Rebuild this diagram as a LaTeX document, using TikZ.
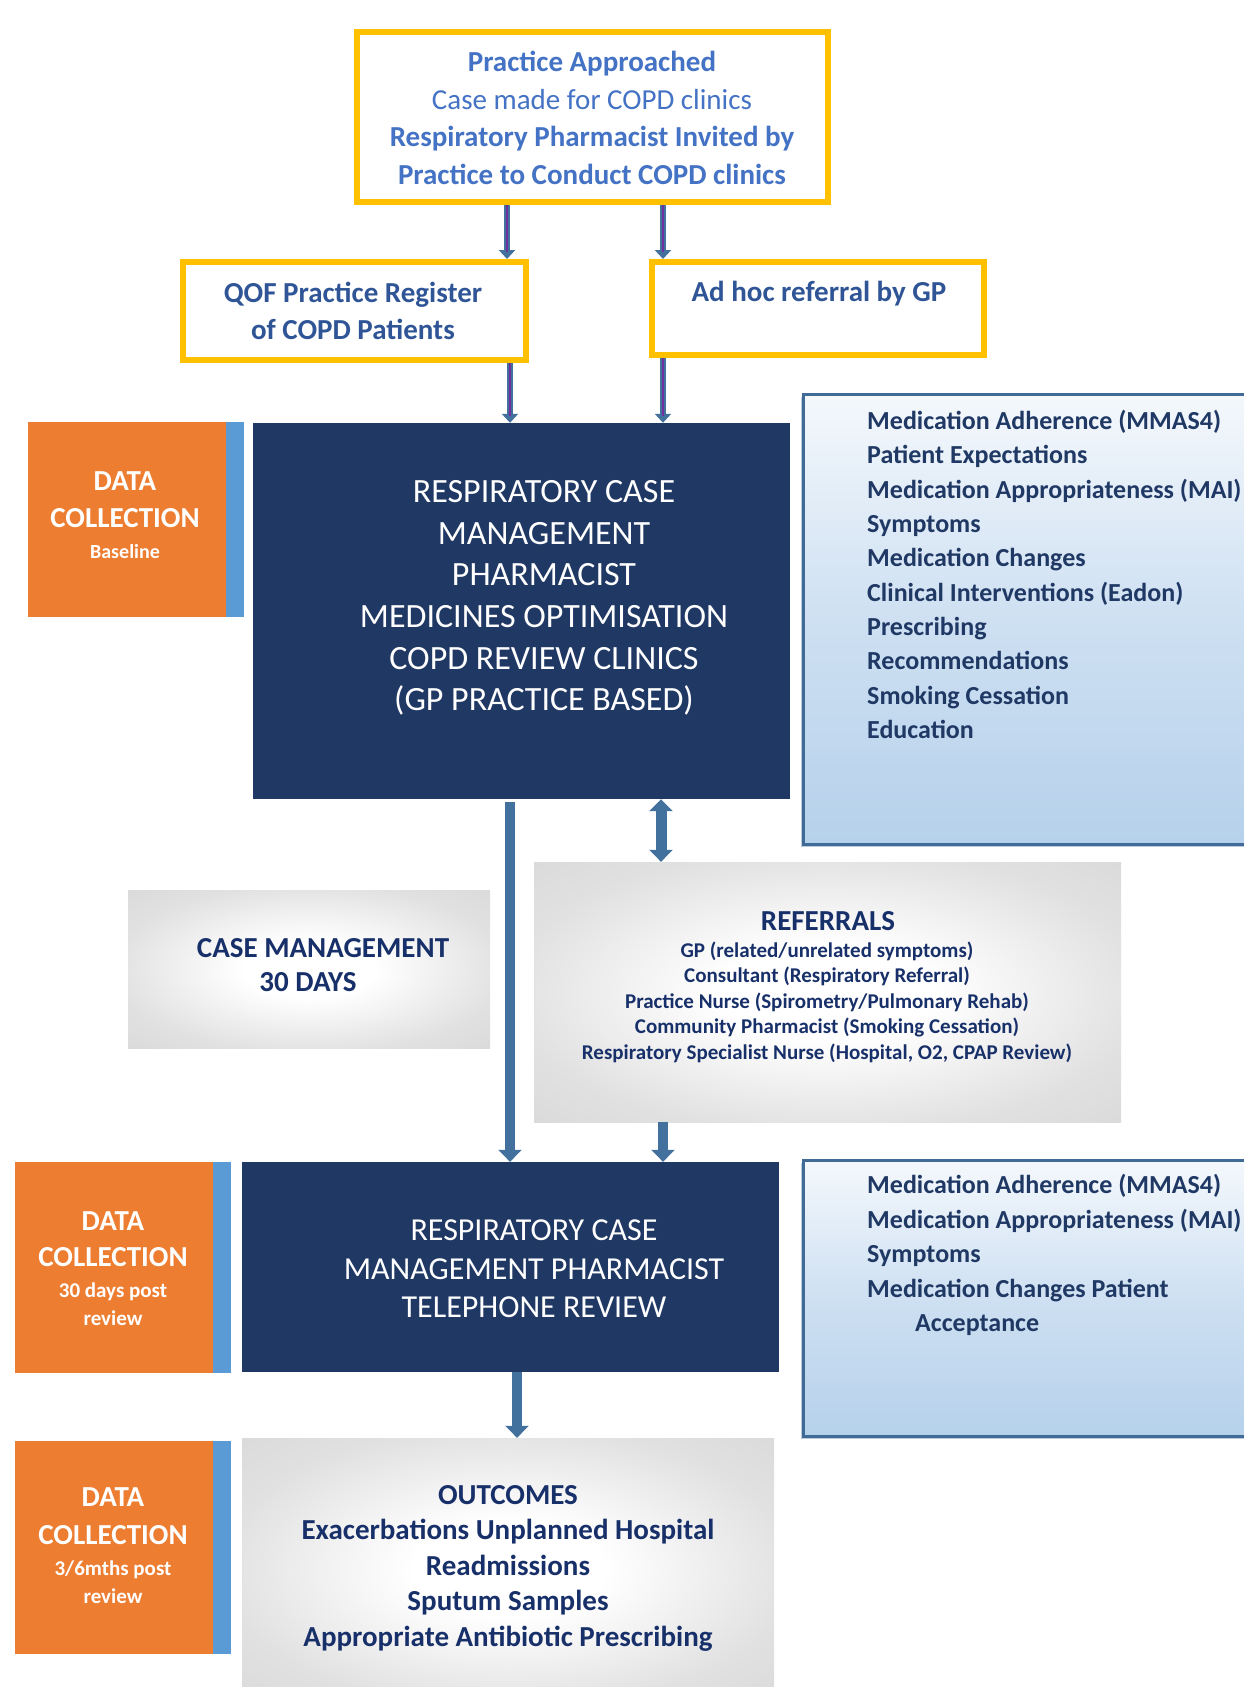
\documentclass[tikz,border=0pt]{standalone}
\usepackage{fontspec}
\setmainfont{Carlito}
\usetikzlibrary{arrows.meta,shadows,calc}
\definecolor{yellowC}{HTML}{FFC000}
\definecolor{navyC}{HTML}{203864}
\definecolor{orangeC}{HTML}{ED7D31}
\definecolor{stripC}{HTML}{5B9BD5}
\definecolor{steelC}{HTML}{41719C}
\definecolor{purpleC}{HTML}{7030A0}
\definecolor{topTxt}{HTML}{4472C4}
\definecolor{qofTxt}{HTML}{2F5597}
\definecolor{darkTxt}{HTML}{1F3864}
\definecolor{navyTxt}{HTML}{18306A}
\definecolor{rborder}{HTML}{3F6B96}
\definecolor{rtop}{HTML}{F4F8FC}
\definecolor{rmid}{HTML}{CEE0F2}
\definecolor{rbot}{HTML}{B6D1EB}
\definecolor{grayedge}{HTML}{E2E1E1}
\definecolor{grayedgeB}{HTML}{DBDADA}
\pgfdeclareradialshading{grayrad}{\pgfpoint{0bp}{0bp}}{color(0bp)=(white); color(9bp)=(white); color(27bp)=(grayedge); color(36bp)=(grayedgeB); color(50bp)=(grayedgeB)}
\tikzset{
  ybox/.style={draw=yellowC, line width=6pt, fill=white, inner sep=0pt},
  navybox/.style={fill=navyC, inner sep=0pt},
  orangebox/.style={fill=orangeC, inner sep=0pt},
  stripbox/.style={fill=stripC, inner sep=0pt},
  rbox/.style={draw=rborder, line width=3pt, top color=rtop, bottom color=rbot, middle color=rmid, inner sep=0pt,
    drop shadow={shadow xshift=-2.5pt, shadow yshift=-3pt, opacity=0.35, fill=rborder}},
  gbox/.style={shading=grayrad, inner sep=0pt},
  txt/.style={inner sep=0pt, align=center},
  parrow/.style={draw=steelC, line width=6.5pt, -{Triangle[length=9pt,width=16pt]},
    postaction={draw=purpleC, line width=2.6pt, -, shorten >=7pt, shorten <=0pt}},
  sarrow/.style={draw=steelC, line width=10pt, -{Triangle[length=12pt,width=23pt]}},
  darrow/.style={draw=steelC, line width=11pt, {Triangle[length=12pt,width=23pt]}-{Triangle[length=12pt,width=23pt]}},
}
\begin{document}
\begin{tikzpicture}[x=1pt,y=-1pt]
\useasboundingbox (0,0) rectangle (1244,1687);
\fill[white] (0,0) rectangle (1244,1687);

% boxes
\node[ybox, minimum width=471pt, minimum height=170pt] (top) at (592.5,117) {};
\node[ybox, minimum width=343pt, minimum height=98pt] (qof) at (354.5,311) {};
\node[ybox, minimum width=332pt, minimum height=93pt] (adhoc) at (818,308.5) {};
\node[navybox, minimum width=537pt, minimum height=376pt] (main) at (521.5,611) {};
\node[orangebox, minimum width=198pt, minimum height=195pt] (or1) at (127,519.5) {};
\node[stripbox, minimum width=18pt, minimum height=195pt] (st1) at (235,519.5) {};
\node[rbox, minimum width=467pt, minimum height=450pt] (rb1) at (1036.5,619) {};
\node[gbox, minimum width=362pt, minimum height=158pt] (cm) at (309,969) {};
\node[gbox, minimum width=587pt, minimum height=260pt] (ref) at (827.5,992) {};
\node[navybox, minimum width=537pt, minimum height=210pt] (tel) at (510.5,1267) {};
\node[orangebox, minimum width=198pt, minimum height=211pt] (or2) at (114,1267.5) {};
\node[stripbox, minimum width=18pt, minimum height=211pt] (st2) at (222,1267.5) {};
\node[rbox, minimum width=467pt, minimum height=276pt] (rb2) at (1036.5,1298) {};
\node[orangebox, minimum width=198pt, minimum height=213pt] (or3) at (114,1547.5) {};
\node[stripbox, minimum width=18pt, minimum height=213pt] (st3) at (222,1547.5) {};
\node[gbox, minimum width=532pt, minimum height=262pt] (out) at (508,1569) {};

% connector columns
\coordinate (xa) at (507,0);
\coordinate (xb) at (663,0);
\coordinate (xc) at (510,0);
\coordinate (xd) at (661,0);
\coordinate (xe) at (517,0);

\draw[parrow] (top.south -| xa) -- (qof.north -| xa);
\draw[parrow] (top.south -| xb) -- (adhoc.north -| xb);
\draw[parrow] (qof.south -| xc) -- (main.north -| xc);
\draw[parrow] (adhoc.south -| xb) -- (main.north -| xb);
\draw[sarrow] ([yshift=-3pt]main.south -| xc) -- (tel.north -| xc);
\draw[darrow] (main.south -| xd) -- (ref.north -| xd);
\draw[sarrow] (ref.south -| xb) -- (tel.north -| xb);
\draw[sarrow] (tel.south -| xe) -- (out.north -| xe);

% texts
\node[txt, text=topTxt, font=\fontsize{29}{37.4}\selectfont] (ttop) at (592,118)
  {\textbf{Practice Approached}\\Case made for COPD clinics\\\textbf{Respiratory Pharmacist Invited by}\\\textbf{Practice to Conduct COPD clinics}};
\node[txt, text=qofTxt, font=\bfseries\fontsize{29}{37}\selectfont] (tqof) at (353,310.5)
  {QOF Practice Register\\of COPD Patients};
\node[txt, text=qofTxt, font=\bfseries\fontsize{29}{37}\selectfont] (tadhoc) at (819,293.5)
  {Ad hoc referral by GP};
\node[txt, text=white, font=\fontsize{34}{41.6}\selectfont] (tmain) at (544,598)
  {RESPIRATORY CASE\\MANAGEMENT\\PHARMACIST\\MEDICINES OPTIMISATION\\COPD REVIEW CLINICS\\(GP PRACTICE BASED)};
\node[txt, text=white, font=\bfseries\fontsize{29}{37}\selectfont] (tor1) at (125,499.5) {DATA\\COLLECTION};
\node[txt, text=white, font=\bfseries\fontsize{20}{28}\selectfont] (sor1) at (125,552) {Baseline};
\node[txt, align=left, anchor=west, text=darkTxt, font=\bfseries\fontsize{26}{34.3}\selectfont] (trb1) at (867,574.4)
  {Medication Adherence (MMAS4)\\Patient Expectations\\Medication Appropriateness (MAI)\\Symptoms\\Medication Changes\\Clinical Interventions (Eadon)\\Prescribing\\Recommendations\\Smoking Cessation\\Education};
\node[txt, text=navyTxt, font=\bfseries\fontsize{29}{34}\selectfont] (tcm) at (323,965)
  {CASE MANAGEMENT\\30 DAYS\rule{30pt}{0pt}};
\node[txt, text=navyTxt, font=\bfseries\fontsize{29}{34}\selectfont] (tref) at (828,921) {REFERRALS};
\node[txt, text=navyTxt, font=\bfseries\fontsize{21}{25.5}\selectfont] (lref) at (827,1002)
  {GP (related/unrelated symptoms)\\Consultant (Respiratory Referral)\\Practice Nurse (Spirometry/Pulmonary Rehab)\\Community Pharmacist (Smoking Cessation)\\Respiratory Specialist Nurse (Hospital, O2, CPAP Review)};
\node[txt, text=white, font=\fontsize{32}{38.5}\selectfont] (ttel) at (534,1269)
  {RESPIRATORY CASE\\MANAGEMENT PHARMACIST\\TELEPHONE REVIEW};
\node[txt, text=white, font=\bfseries\fontsize{29}{36}\selectfont] (tor2) at (113,1239) {DATA\\COLLECTION};
\node[txt, text=white, font=\bfseries\fontsize{21}{28}\selectfont] (sor2) at (113,1304) {30 days post\\review};
\node[txt, align=left, anchor=west, text=darkTxt, font=\bfseries\fontsize{26}{34.5}\selectfont] (trb2) at (867,1255)
  {Medication Adherence (MMAS4)\\Medication Appropriateness (MAI)\\Symptoms\\Medication Changes Patient\\\hspace*{48pt}Acceptance};
\node[txt, text=white, font=\bfseries\fontsize{29}{38}\selectfont] (tor3) at (113,1516) {DATA\\COLLECTION};
\node[txt, text=white, font=\bfseries\fontsize{21}{28}\selectfont] (sor3) at (113,1582) {3/6mths post\\review};
\node[txt, text=navyTxt, font=\bfseries\fontsize{29}{35.5}\selectfont] (tout) at (508,1568)
  {OUTCOMES\\Exacerbations Unplanned Hospital\\Readmissions\\Sputum Samples\\Appropriate Antibiotic Prescribing};
\end{tikzpicture}
\end{document}
